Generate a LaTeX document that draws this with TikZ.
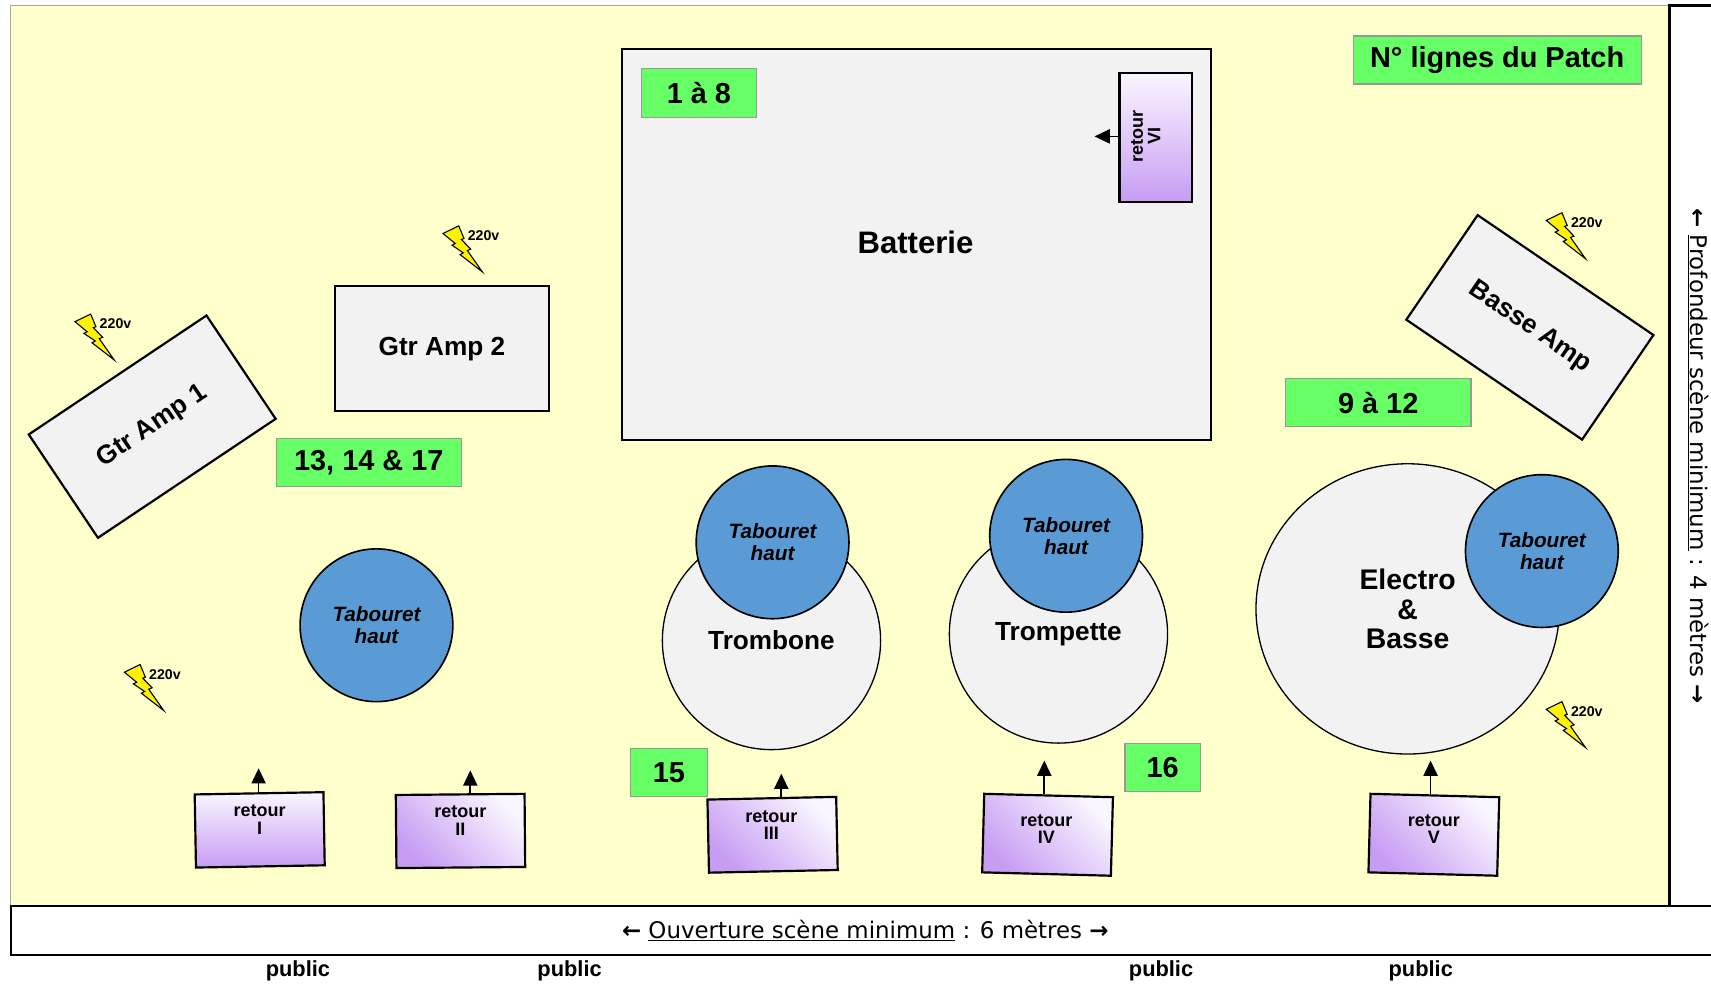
\documentclass[tikz,border=0pt]{standalone}
\usepackage{fontspec}
\setmainfont{Liberation Sans}
\newfontfamily\dv{DejaVu Sans}
\usetikzlibrary{arrows.meta,shapes.geometric}
\definecolor{stage}{HTML}{FFFFCC}
\definecolor{patch}{HTML}{66FF66}
\definecolor{ampgray}{HTML}{F2F2F2}
\definecolor{seatblue}{HTML}{5B9BD5}
\definecolor{retlo}{HTML}{C79CF3}
\definecolor{rethi}{HTML}{FAF6FF}
\newcommand\fsz[2]{\fontsize{#1pt}{#2pt}\selectfont}
\begin{document}
\begin{tikzpicture}[x=1pt,y=-1pt,
  patchbox/.style={draw=black!40, line width=1pt, fill=patch, inner sep=0pt, font=\bfseries\fsz{26.5}{28}},
  ampbox/.style={draw=black, line width=2pt, fill=ampgray, inner sep=0pt, font=\bfseries\fsz{24}{26}},
  seat/.style={circle, draw=black, line width=1.5pt, fill=seatblue, minimum size=140pt, inner sep=0pt, align=center, font=\bfseries\itshape\fsz{19}{20}},
  player/.style={circle, draw=black, line width=1.2pt, fill=ampgray, minimum size=200pt, inner sep=0pt, font=\bfseries\fsz{24}{26}},
  retbox/.style={draw=black, line width=2pt, inner sep=0pt, bottom color=retlo, top color=rethi},
  rettext/.style={align=center, font=\bfseries\fsz{16.5}{16}, inner sep=0pt},
  arr/.style={line width=1.5pt, -{Triangle[length=14pt,width=13pt]}},
  volt/.style={font=\bfseries\fsz{13}{13}, inner sep=0pt, anchor=west},
  dimtext/.style={font=\dv\fsz{21}{22}, inner sep=0pt},
  bolt/.pic={
    \draw[line width=1pt, fill=yellow] (0,0) -- (14.4,-7) -- (19.2,4.6) -- (16.8,5.5) -- (25.4,14.3) -- (22.3,15.6) -- (36,35.1) -- (15.6,19.3) -- (18.6,17.7) -- (8.2,10.7) -- (11.2,9.2) -- cycle;
    \node[volt] (-t) at (22.5,2) {220v};
  }
]
\useasboundingbox (0,0) rectangle (1568,902);
\clip (0,0) rectangle (1568,902);
\fill[white] (0,0) rectangle (1568,902);
% stage
\fill[stage] (10,5) rectangle (1530,830);
\draw[black!35, line width=1pt] (10,830) -- (10,5) -- (1530,5);
\draw[line width=2pt, fill=white] (1530,5) rectangle (1590,830);
\draw[line width=2pt, fill=white] (10,830) rectangle (1590,875);
\node[dimtext, rotate=-90] (depth) at (1556,418) {\textbf{←} \underline{Profondeur scène minimum} : 4 mètres \textbf{→}};
\node[dimtext] (width) at (793,853) {\textbf{←} \underline{Ouverture scène minimum} : 6 mètres \textbf{→}};
% public
\foreach \x/\n in {273/p1,522/p2,1064/p3,1302/p4}
  \node[font=\bfseries\fsz{20}{20}, inner sep=0pt] (\n) at (\x,890) {public};
% drums
\node[ampbox, minimum width=540pt, minimum height=358pt] (batt) at (840,224) {};
\node[font=\bfseries\fsz{28.5}{30}, inner sep=0pt] (battt) at (839,222) {Batterie};
\node[patchbox, minimum width=105pt, minimum height=45pt] (p18) at (640.5,85.5) {1 à 8};
\node[retbox, minimum width=66pt, minimum height=118pt] (r6) at (1059,126) {};
\node[rettext, rotate=90] (r6t) at (1050,125) {retour\\VI};
\coordinate (a6) at (1003,125);
\draw[arr] (r6.west |- a6) -- (a6);
% amps
\node[ampbox, minimum width=196pt, minimum height=115pt] (ga2) at (405,319.5) {Gtr Amp 2};
\node[ampbox, minimum width=196pt, minimum height=114pt, rotate=33.8] (ga1) at (139.5,391) {Gtr Amp 1};
\node[ampbox, minimum width=195pt, minimum height=116pt, rotate=-34.3] (ba) at (1402,300) {Basse Amp};
% patch labels
\node[patchbox, minimum width=264pt, minimum height=44pt] (title) at (1372,55) {N° lignes du Patch};
\node[patchbox, minimum width=170pt, minimum height=44pt] (p1314) at (338,424) {13, 14 \& 17};
\node[patchbox, minimum width=170pt, minimum height=44pt] (p912) at (1263,369) {9 à 12};
\node[patchbox, minimum width=70pt, minimum height=44pt] (p15) at (613,708) {15};
\node[patchbox, minimum width=69pt, minimum height=44pt] (p16) at (1065.5,703) {16};
% players
\node[player] (tromb) at (707,587) {Trombone};
\node[seat] (s2) at (708,497) {Tabouret\\haut};
\node[player] (tromp) at (970,581) {\raisebox{1pt}{Trompette}};
\node[seat] (s3) at (977,491) {Tabouret\\haut};
\node[ellipse, draw=black, line width=1.2pt, fill=ampgray, minimum width=278pt, minimum height=266pt, inner sep=0pt, align=center, font=\bfseries\fsz{26}{27}] (eb) at (1290,558) {Electro\\\&\\Basse};
\node[seat] (s4) at (1413,505) {Tabouret\\haut};
\node[seat] (s1) at (345,573) {Tabouret\\haut};
% retours
\node[retbox, minimum width=118pt, minimum height=67pt, rotate=1] (r1) at (238,760.5) {};
\node[rettext] (r1t) at (238,751) {retour\\I};
\node[retbox, minimum width=118pt, minimum height=67pt, rotate=0.5, shading angle=-45] (r2) at (422,761.5) {};
\node[rettext] (r2t) at (422,752) {retour\\II};
\node[retbox, minimum width=118pt, minimum height=67pt, rotate=1.2, shading angle=-45] (r3) at (708,765) {};
\node[rettext] (r3t) at (707,756) {retour\\III};
\node[retbox, minimum width=118pt, minimum height=72pt, rotate=-1.5, shading angle=-45] (r4) at (960,765) {};
\node[rettext] (r4t) at (959,760) {retour\\IV};
\node[retbox, minimum width=118pt, minimum height=72pt, rotate=-1.5, shading angle=-45] (r5) at (1314,765) {};
\node[rettext] (r5t) at (1314,760) {retour\\V};
\coordinate (a1) at (237,704);
\coordinate (a2) at (431,706);
\coordinate (a3) at (716,709);
\coordinate (a4) at (957,697);
\coordinate (a5) at (1311,697);
\draw[arr] (r1.north -| a1) -- (a1);
\draw[arr] (r2.north -| a2) -- (a2);
\draw[arr] (r3.north -| a3) -- (a3);
\draw[arr] (r4.north -| a4) -- (a4);
\draw[arr] (r5.north -| a5) -- (a5);
% power
\pic (b1) at (68.7,294.8) {bolt};
\pic (b2) at (406,214) {bolt};
\pic (b3) at (114,616) {bolt};
\pic (b4) at (1417,202) {bolt};
\pic (b5) at (1417,650) {bolt};
\end{tikzpicture}
\end{document}
